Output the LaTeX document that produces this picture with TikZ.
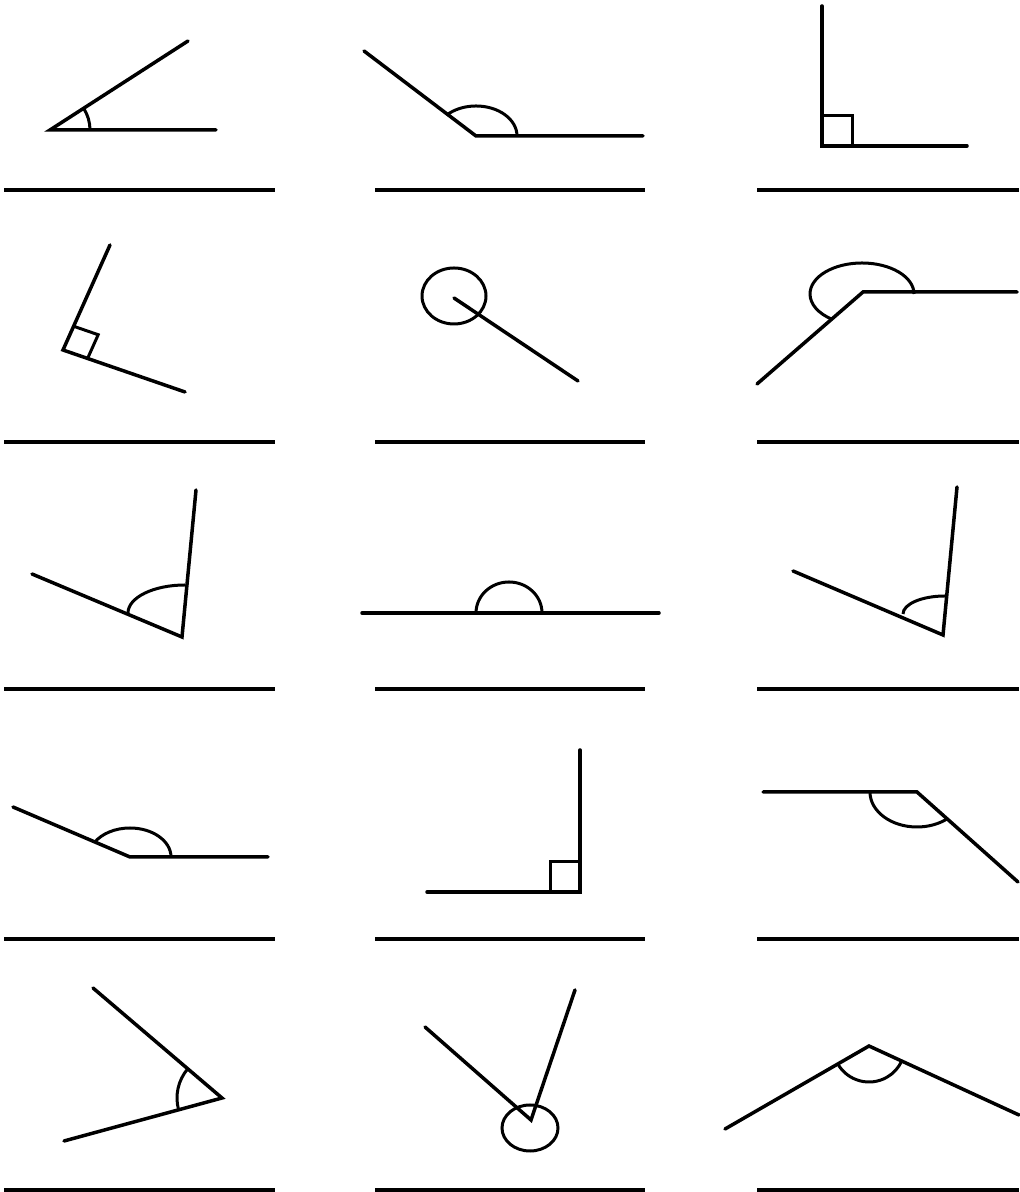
\documentclass[tikz,border=0pt]{standalone}
\usetikzlibrary{calc}

\begin{document}
\begin{tikzpicture}[x=0.02cm, y=0.02cm,
  ray/.style={line width=0.07cm, line cap=round},
  anglemark/.style={line width=0.06cm},
  answer/.style={line width=0.07cm}]

  \useasboundingbox (0,0) rectangle (1019,1192);

  % --- Answer lines ---
  \foreach \y in {1002,750,503,253,2} {
    \draw[answer] (4,\y) -- (275,\y);
    \draw[answer] (375,\y) -- (645,\y);
    \draw[answer] (757,\y) -- (1019,\y);
  }

  % --- Row 1 ---
  \coordinate (v1) at (50,1062);
  \draw[ray] (216,1062) -- (v1) -- (188,1151);
  \draw[anglemark] (v1) ++(40,0) arc[start angle=0, end angle=33, radius=40];

  \coordinate (v2) at (476,1056);
  \draw[ray] (643,1056) -- (v2) -- (364,1141);
  \draw[anglemark] (v2) ++(41,0) arc[start angle=0, end angle=136, x radius=41, y radius=30];

  \coordinate (v3) at (822,1046);
  \draw[ray] (967,1046) -- (v3) -- (822,1186);
  \draw[anglemark] (v3) rectangle (852,1076);

  % --- Row 2 ---
  \coordinate (v4) at (63,842);
  \coordinate (a4) at (185,800);
  \coordinate (b4) at (110,947);
  \draw[ray] (a4) -- (v4) -- (b4);
  \coordinate (p4a) at ($(v4)!0.52cm!(a4)$);
  \coordinate (p4b) at ($(v4)!0.52cm!(b4)$);
  \draw[anglemark] (p4a) -- ($(p4a)+(p4b)-(v4)$) -- (p4b);

  \coordinate (v5) at (454,894);
  \draw[ray] (v5) -- (578,811);
  \draw[anglemark] (454,896) ellipse[x radius=32, y radius=28];

  \coordinate (v6) at (863,900);
  \draw[ray] (1017,900) -- (v6) -- (757,808);
  \draw[anglemark] (862,898) ++(52,0) arc[start angle=0, end angle=235, x radius=52, y radius=31];

  % --- Row 3 ---
  \coordinate (v7) at (182,555);
  \draw[ray] (196,702) -- (v7) -- (32,618);
  \draw[anglemark] (185,607) arc[start angle=90, end angle=180, x radius=57, y radius=28];

  \coordinate (v8) at (509,579);
  \draw[ray] (362,579) -- (659,579);
  \draw[anglemark] (v8) ++(33,0) arc[start angle=0, end angle=180, x radius=33, y radius=31];
  \fill (v8) circle[radius=2];

  \coordinate (v9) at (943,557);
  \draw[ray] (957,705) -- (v9) -- (793,621);
  \draw[anglemark] (945,596) arc[start angle=90, end angle=180, x radius=42, y radius=18];

  % --- Row 4 ---
  \coordinate (v10) at (130,335);
  \draw[ray] (268,335) -- (v10) -- (13,385);
  \draw[anglemark] (v10) ++(41,0) arc[start angle=0, end angle=150, x radius=41, y radius=29];

  \coordinate (v11) at (580,300);
  \draw[ray] (427,300) -- (v11) -- (580,442);
  \draw[anglemark] (550,300) rectangle (580,330);

  \coordinate (v12) at (917,400);
  \draw[ray] (763,400) -- (v12) -- (1018,310);
  \draw[anglemark] (v12) ++(-47,0) arc[start angle=180, end angle=310, x radius=47, y radius=35];

  % --- Row 5 ---
  \coordinate (v13) at (222,94);
  \draw[ray] (93,204) -- (v13) -- (64,51);
  \draw[anglemark] (v13) ++(139.5:45) arc[start angle=139.5, end angle=195.2, radius=45];

  \coordinate (v14) at (531,72);
  \draw[ray] (425,165) -- (v14) -- (575,202);
  \draw[anglemark] (530,64) ellipse[x radius=28, y radius=23];

  \coordinate (v15) at (869,146);
  \draw[ray] (725,63) -- (v15) -- (1019,77);
  \draw[anglemark] (v15) ++(210:36) arc[start angle=210, end angle=335, radius=36];

\end{tikzpicture}
\end{document}
